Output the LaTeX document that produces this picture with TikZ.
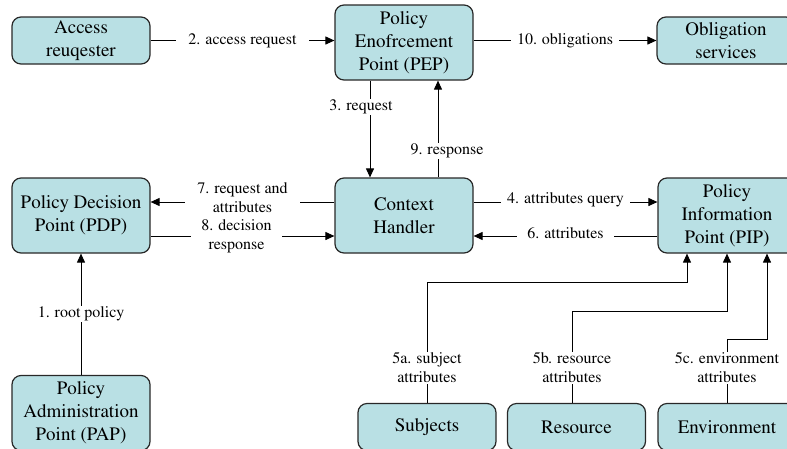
\documentclass[tikz,border=0pt]{standalone}
\usepackage[T1]{fontenc}
\renewcommand{\rmdefault}{ptm}
\usetikzlibrary{arrows.meta}
\definecolor{boxfill}{RGB}{185,224,228}
\definecolor{boxline}{RGB}{40,40,40}
\begin{document}
\begin{tikzpicture}[x=1pt,y=-1pt,
  box/.style={draw=boxline, line width=1.2pt, fill=boxfill, rounded corners=9pt,
    minimum width=138pt, inner sep=0pt, align=center, font=\fontsize{19}{23}\selectfont},
  boxtwo/.style={box, minimum height=47pt},
  boxthree/.style={box, minimum height=75pt},
  lbl/.style={fill=white, inner ysep=1pt, inner xsep=6pt, align=center,
    font=\fontsize{16}{19}\selectfont},
  arr/.style={line width=1pt, -{Triangle[length=9pt,width=8pt]}},
]
\useasboundingbox (0,0) rectangle (787,448);
\clip (0,0) rectangle (787,448);

% nodes
\node[boxtwo]   (acc)  at (81,40.5)   {Access\\reuqester};
\node[boxthree] (pep)  at (404,42.5)  {Policy\\Enofrcement\\Point (PEP)};
\node[boxtwo]   (obl)  at (726,40.5)  {Obligation\\services};
\node[boxthree] (pdp)  at (81,215.5)  {Policy Decision\\Point (PDP)};
\node[boxthree] (ctx)  at (404,215.5) {Context\\Handler};
\node[boxthree] (pip)  at (727,215.5) {Policy\\Information\\Point (PIP)};
\node[boxthree] (pap)  at (81,413)    {Policy\\Administration\\Point (PAP)};
\node[boxtwo]   (subj) at (427,427)   {Subjects};
\node[boxtwo]   (res)  at (576.5,427) {Resource};
\node[boxtwo]   (env)  at (727,427)   {Environment};

% connectors
\draw[arr] (acc.east) -- node[lbl, inner xsep=12pt]{2. access request} (acc.east -| pep.west);
\draw[arr] (obl.west -| pep.east) -- node[lbl]{10. obligations} (obl.west);

\draw[arr] ([xshift=-34pt]pep.south) -- node[lbl, pos=0.27, xshift=-9pt]{3. request} ([xshift=-34pt]ctx.north);
\draw[arr] ([xshift=34pt]ctx.north) -- node[lbl, pos=0.27, xshift=9pt]{9. response} ([xshift=34pt]pep.south);

\draw[arr] ([yshift=13.5pt]ctx.west) -- node[lbl, inner xsep=12pt, yshift=4.5pt]{7. request and\\attributes} ([yshift=13.5pt]pdp.east);
\draw[arr] ([yshift=-20.5pt]pdp.east) -- node[lbl, inner xsep=10pt, xshift=-6pt]{8. decision\\response} ([yshift=-20.5pt]ctx.west);

\draw[arr] ([yshift=13.5pt]ctx.east) -- node[lbl, yshift=2pt]{4. attributes query} ([yshift=13.5pt]pip.west);
\draw[arr] ([yshift=-20.5pt]pip.west) -- node[lbl, inner xsep=10pt, yshift=3pt]{6. attributes} ([yshift=-20.5pt]ctx.east);

\draw[arr] (pap.north) -- node[lbl, inner xsep=2pt]{1. root policy} (pdp.south);

\draw[arr] (subj.north) -- node[lbl, pos=0.29]{5a. subject\\attributes} ++(0,-120) -| ([xshift=-40pt]pip.south);
\draw[arr] ([xshift=-4.5pt]res.north) -- node[lbl, pos=0.385]{5b. resource\\attributes} ++(0,-91) -| (pip.south);
\draw[arr] (env.north) -- node[lbl, pos=0.556]{5c. environment\\attributes} ++(0,-63) -| ([xshift=40pt]pip.south);
\end{tikzpicture}
\end{document}
